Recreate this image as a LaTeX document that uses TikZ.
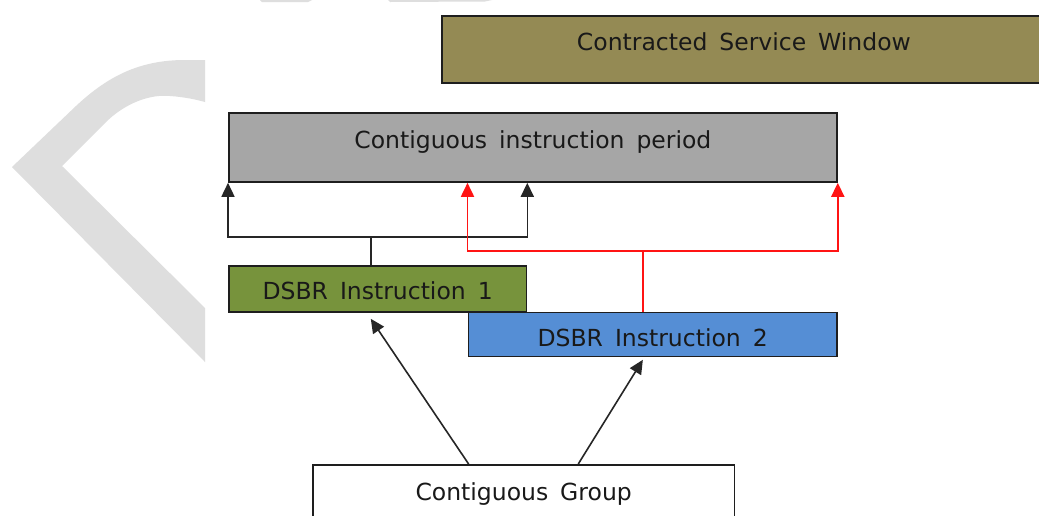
\documentclass[tikz,border=0pt]{standalone}
\usepackage{fontspec}
\setmainfont[WordSpace=1.6]{DejaVu Sans}
\usetikzlibrary{arrows.meta,calc}

\definecolor{windowolive}{RGB}{148,138,84}
\definecolor{periodgray}{RGB}{166,166,166}
\definecolor{instrgreen}{RGB}{119,147,60}
\definecolor{instrblue}{RGB}{85,142,213}
\definecolor{markgray}{RGB}{222,222,222}
\definecolor{edgegray}{RGB}{30,30,30}
\definecolor{linkred}{RGB}{255,20,20}

\tikzset{
  box/.style={draw=edgegray, line width=1.8pt, inner sep=0pt, anchor=north west,
    font=\fontsize{23.5}{27}\selectfont, text=black!90},
  link/.style={draw=black!85, line width=1.6pt},
  redlink/.style={draw=linkred, line width=1.8pt},
  tip/.style={-{Triangle[width=13pt,length=14pt]}},
  bothtips/.style={{Triangle[width=13pt,length=14pt]}-{Triangle[width=13pt,length=14pt]}},
}

\begin{document}
\begin{tikzpicture}[x=1pt,y=-1pt]
\useasboundingbox (0,0) rectangle (1039,515);
\clip (0,0) rectangle (1039,515);
\fill[white] (0,0) rectangle (1039,515);

% light background lettering
\fill[markgray]
  (205,60) -- (185,60) .. controls (140,60) and (108,76) .. (76,106)
  -- (12,167) -- (205,362) -- (205,308) -- (62,166) -- (105,123)
  .. controls (125,103) and (150,94) .. (170,96)
  .. controls (185,97) and (198,100) .. (205,102) -- cycle;
\fill[markgray] (260,0) -- (312,0) -- (308,2) -- (262,2) -- cycle;
\fill[markgray] (388,0) -- (492,0) -- (485,1.5) -- (390,2) -- cycle;

% boxes
\node[box, fill=windowolive, minimum width=604pt, text height=35pt, text depth=32pt]
  (window) at (441,15) {Contracted Service Window};
\node[box, fill=periodgray, minimum width=608pt, text height=36pt, text depth=33pt]
  (period) at (228,112) {Contiguous instruction period};
\node[box, fill=instrgreen, minimum width=297.5pt, text height=34pt, text depth=12pt]
  (d1) at (228,265) {DSBR Instruction 1};
\node[box, fill=instrblue, minimum width=368.5pt, text height=34pt, text depth=10pt]
  (d2) at (467.5,311.5) {DSBR Instruction 2};
\node[box, fill=white, minimum width=421.5pt, text height=36pt, text depth=34pt]
  (group) at (312,464) {Contiguous Group};

% attachment points along the instruction boxes
\coordinate (m1) at ($(d1.south west)!0.477!(d1.south east)$);
\coordinate (m2) at ($(d2.south west)!0.4735!(d2.south east)$);
\coordinate (b1) at ($(d1.north -| m1)+(0,-28)$);
\coordinate (r1) at ($(d2.north -| m2)+(0,-60.5)$);

% instruction 1 spans the period
\draw[link] (d1.north -| m1) -- (b1);
\draw[link, bothtips] (period.south -| d1.west) |- (b1 -| d1.east) -- (period.south -| d1.east);

% instruction 2 spans the period
\draw[redlink] (d2.north -| m2) -- (r1);
\draw[redlink, bothtips] (period.south -| d2.west) |- (r1 -| d2.east) -- (period.south -| d2.east);

% group feeds both instructions
\draw[link, tip] ($(group.north west)!0.37!(group.north east)$) -- ($(m1)+(0,6)$);
\draw[link, tip] ($(group.north west)!0.629!(group.north east)$) -- ($(m2)+(0,2.5)$);
\end{tikzpicture}
\end{document}
